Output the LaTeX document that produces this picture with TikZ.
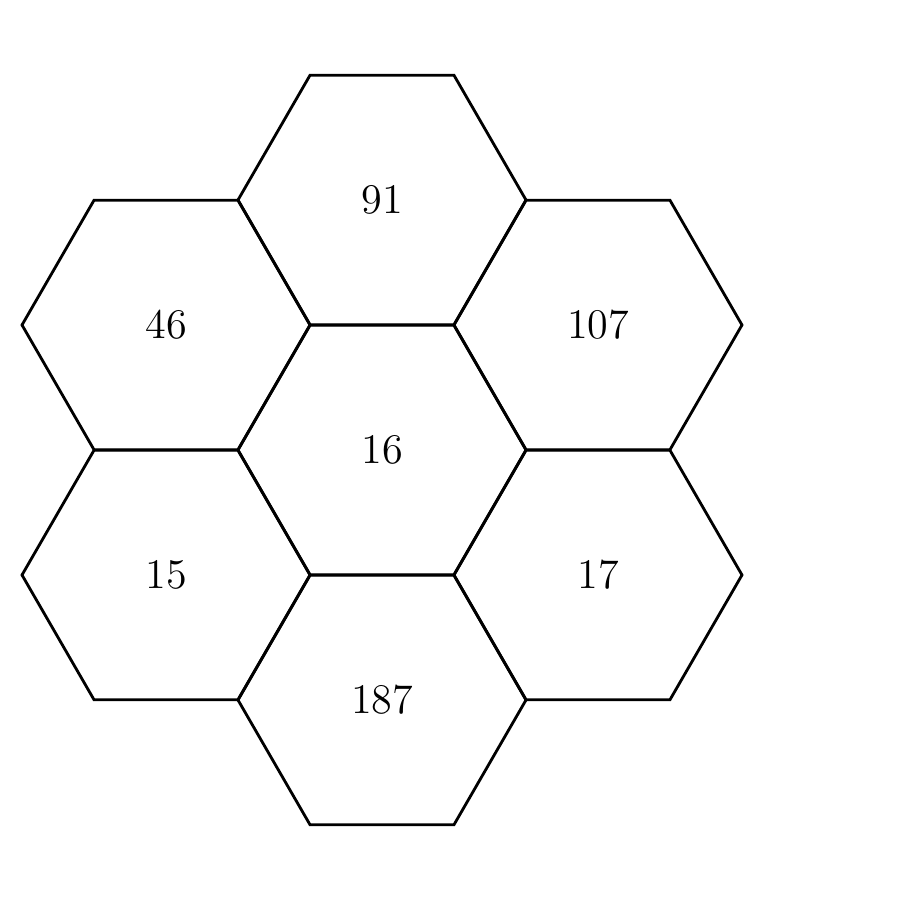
\documentclass[tikz,border=0pt]{standalone}
\usepackage{tikz}
\usetikzlibrary{shapes.geometric}

\begin{document}
\begin{tikzpicture}[
    wabe/.style={
      regular polygon,
      regular polygon sides=6,
      minimum size=2.88cm,
      inner sep=0pt,
      outer sep=0pt,
      line width=0.8pt,
      font=\large,
      draw}
    ]

  \useasboundingbox (0,0) rectangle (9,9);

  \node at (3.82, 4.50) (wabe0) [wabe] { 16 };
\node at (3.82, 7.00) (wabe1) [wabe] { 91 };
\node at (1.66, 5.75) (wabe2) [wabe] { 46 };
\node at (5.98, 5.75) (wabe3) [wabe] { 107 };
\node at (1.66, 3.25) (wabe4) [wabe] { 15 };
\node at (5.98, 3.25) (wabe5) [wabe] { 17 };
\node at (3.82, 2.00) (wabe6) [wabe] { 187 };

\end{tikzpicture}
\end{document}
